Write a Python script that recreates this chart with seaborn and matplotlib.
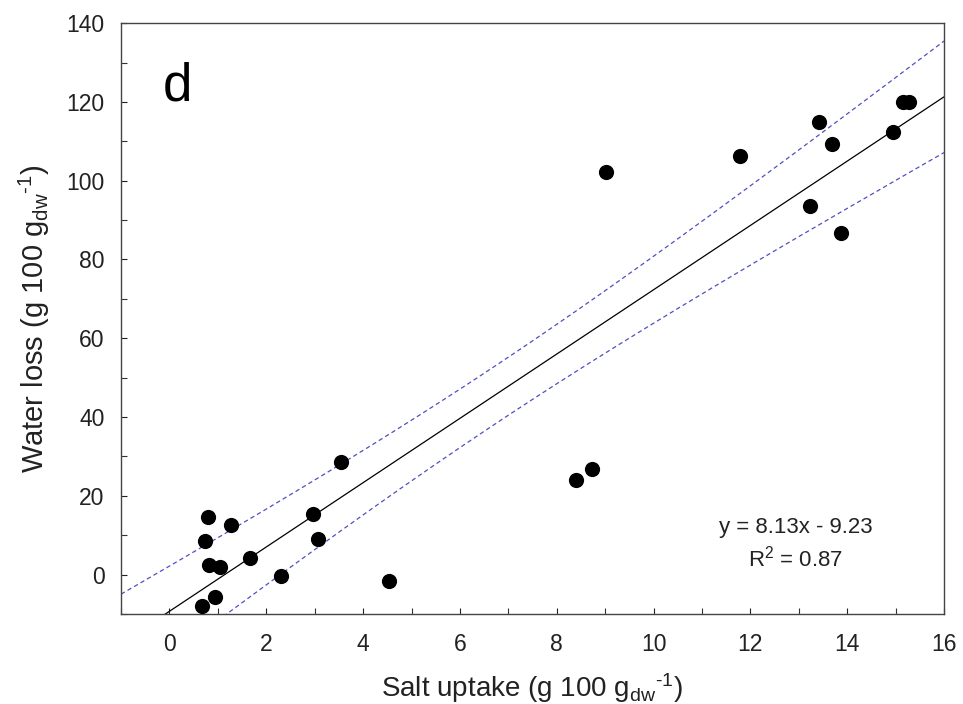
import numpy as np
import pandas as pd
import matplotlib
matplotlib.use("Agg")
import matplotlib.pyplot as plt
import seaborn as sns
from matplotlib.ticker import MultipleLocator

# ---- data ----
salt_uptake = [0.68, 0.73, 0.80, 0.81, 0.94, 1.04, 1.27, 1.66, 2.30, 2.96, 3.06, 3.54,
               4.54, 8.40, 8.72, 9.02, 11.79, 13.24, 13.41, 13.68, 13.88, 14.94, 15.15, 15.28]
water_loss = [-8.0, 8.4, 14.6, 2.4, -5.8, 1.9, 12.5, 4.3, -0.5, 15.3, 8.9, 28.5,
              -1.6, 24.1, 26.8, 102.3, 106.3, 93.6, 115.0, 109.3, 86.8, 112.3, 120.0, 120.0]
x_ticks = [0, 2, 4, 6, 8, 10, 12, 14, 16]
y_ticks = [0, 20, 40, 60, 80, 100, 120, 140]
panel_label = "d"
equation_text = "y = 8.13x - 9.23"
r2_text = "R$^{2}$ = 0.87"

df = pd.DataFrame({"salt": salt_uptake, "water": water_loss})

sns.set_style("white")
plt.rcParams["font.family"] = ["Liberation Sans", "DejaVu Sans"]
plt.rcParams["mathtext.fontset"] = "custom"
plt.rcParams["mathtext.rm"] = "Liberation Sans"
plt.rcParams["mathtext.it"] = "Liberation Sans"

fig = plt.figure(figsize=(9.63, 7.04), dpi=100)
ax = fig.add_axes([0.1257, 0.128, 0.8546, 0.839])
ax.set_xlim(-1, 16)
ax.set_ylim(-10, 140)

# regression line (fit computed by seaborn)
sns.regplot(data=df, x="salt", y="water", ax=ax, ci=None, truncate=False,
            scatter=False, line_kws=dict(color="black", lw=0.9))

# 95% confidence band for the mean, drawn dashed
x = np.asarray(salt_uptake)
y = np.asarray(water_loss)
n = len(x)
b1, b0 = np.polyfit(x, y, 1)
resid = y - (b0 + b1 * x)
s = np.sqrt(np.sum(resid ** 2) / (n - 2))
sxx = np.sum((x - x.mean()) ** 2)
t_crit = 2.074
xg = np.linspace(-1, 16, 200)
yg = b0 + b1 * xg
half = t_crit * s * np.sqrt(1.0 / n + (xg - x.mean()) ** 2 / sxx)
band = pd.DataFrame({"x": np.concatenate([xg, xg]),
                     "y": np.concatenate([yg + half, yg - half]),
                     "side": ["upper"] * len(xg) + ["lower"] * len(xg)})
for side in ["upper", "lower"]:
    sub = band[band["side"] == side]
    ax.plot(sub["x"], sub["y"], color="#5050c0", lw=0.9, dashes=(3.5, 2.5))

sns.scatterplot(data=df, x="salt", y="water", ax=ax, color="black", s=120,
                edgecolor="black", linewidth=0, zorder=5)

ax.set_xticks(x_ticks)
ax.set_yticks(y_ticks)
ax.xaxis.set_minor_locator(MultipleLocator(1))
ax.yaxis.set_minor_locator(MultipleLocator(10))
ax.tick_params(which="both", direction="in", length=4.5, width=0.8, color="#333333",
               bottom=True, left=True, top=False, right=False)
ax.tick_params(which="major", labelsize=16.5, pad=12, colors="#222222")
ax.tick_params(axis="x", which="major", pad=14)
for sp in ax.spines.values():
    sp.set_color("#444444")
    sp.set_linewidth(1.0)

ax.set_xlabel(r"Salt uptake (g 100 g$_{\mathregular{dw}}$$^{\text{-1}}$)", fontsize=20,
              labelpad=11, color="#222222")
ax.set_ylabel(r"Water loss (g 100 g$_{\mathregular{dw}}$$^{\text{-1}}$)", fontsize=21,
              labelpad=10, color="#222222")

ax.text(0.051, 0.870, panel_label, transform=ax.transAxes, fontsize=38, color="black",
        ha="left", va="baseline")
ax.text(0.82, 0.147, equation_text, transform=ax.transAxes, fontsize=16, ha="center",
        va="center", color="#222222")
ax.text(0.82, 0.094, r2_text, transform=ax.transAxes, fontsize=16, ha="center",
        va="center", color="#222222")

fig.savefig("out.png", dpi=100)
